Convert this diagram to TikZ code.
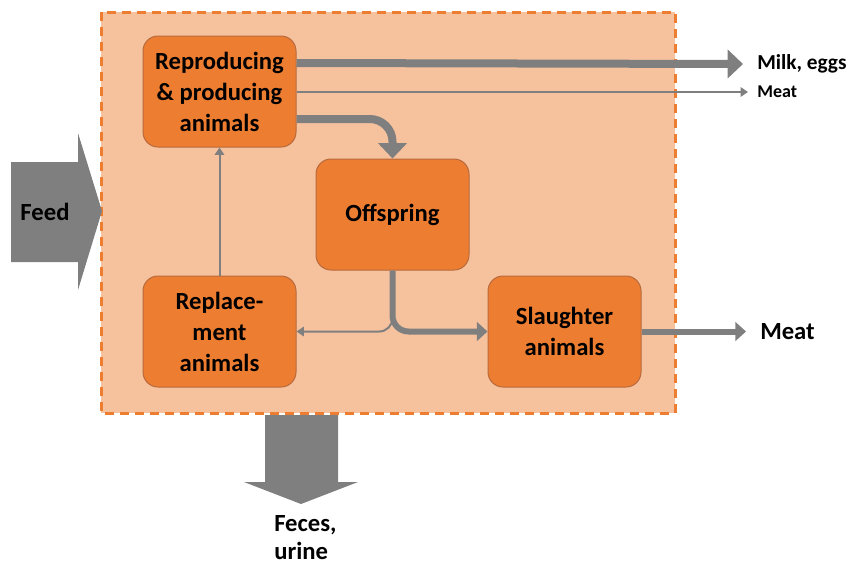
\documentclass[tikz,border=0pt]{standalone}
\usepackage{fontspec}
\setmainfont{Carlito}
\usetikzlibrary{arrows.meta,calc}
\definecolor{outerfill}{HTML}{F6C29E}
\definecolor{boxfill}{HTML}{ED7D31}
\definecolor{boxline}{HTML}{B86A3C}
\definecolor{dashcol}{HTML}{ED7D31}
\definecolor{arrgray}{HTML}{7F7F7F}
\tikzset{
  animalbox/.style={draw=boxline, line width=0.75pt, fill=boxfill, rounded corners=11.25pt,
    minimum width=114.75pt, minimum height=83.25pt, align=center, inner sep=2pt,
    font=\fontsize{18.5}{23.25}\selectfont\bfseries},
  lbl/.style={inner sep=0pt, font=\fontsize{18.5}{22.5}\selectfont\bfseries},
  thickarr/.style={draw=arrgray, line width=6pt, -{Triangle[length=11.5pt,width=21pt]}},
  medarr/.style={draw=arrgray, line width=4.5pt, -{Triangle[length=8pt,width=14pt]}},
  thinarr/.style={draw=arrgray, line width=1.5pt, -{Triangle[length=5.5pt,width=7pt]}},
  blockarr/.style={fill=arrgray}
}
\begin{document}
\begin{tikzpicture}[x=0.75pt,y=-0.75pt]
\useasboundingbox (0,0) rectangle (849,565);
% outer system box
\fill[outerfill] (101,12) rectangle (675,413);
\draw[dashcol, line width=2.25pt, dash pattern=on 6.75pt off 4.5pt] (101,12) rectangle (675,413);
% feed block arrow
\fill[blockarr] (11,162) -- (78,162) -- (78,133) -- (102,211) -- (78,290) -- (78,262) -- (11,262) -- cycle;
\node[lbl] (feed) at (45,212) {Feed};
% feces block arrow
\fill[blockarr] (265,415) -- (338,415) -- (338,482) -- (358,482) -- (301,504) -- (244,482) -- (265,482) -- cycle;
\node[lbl, align=left, anchor=base west, font=\fontsize{18.5}{20.5}\selectfont\bfseries] (feces) at (274,559) {Feces,\\urine};
% boxes
\node[animalbox] (rep) at (219.5,91.5) {Reproducing\\\& producing\\animals};
\node[animalbox] (off) at (392.5,214.5) {Offspring};
\node[animalbox] (repl) at (219.5,331.5) {Replace-\\ment\\animals};
\node[animalbox] (sla) at (564.5,331.5) {Slaughter\\animals};
% output labels
\node[lbl, anchor=west, font=\fontsize{16}{19}\selectfont\bfseries] (milk) at (757,64) {Milk, eggs};
\node[lbl, anchor=west, font=\fontsize{13.5}{16}\selectfont\bfseries] (meat1) at (757,92) {Meat};
\node[lbl, anchor=west] (meat2) at (760,331.5) {Meat};
% connectors
\draw[thickarr] ($(rep.east)+(0,-28.5)$) -- ($(milk.west)+(-14,0)$);
\draw[thinarr] ($(rep.east)+(0,0.5)$) -- ($(meat1.west)+(-9,0)$);
\draw[thickarr, rounded corners=17pt] ($(rep.east)+(0,27.5)$) -| (off.north);
\draw[thinarr] (repl.north) -- (rep.south);
\draw[thinarr, rounded corners=10pt] (off.south) |- (repl.east);
\draw[medarr, rounded corners=12pt] (off.south) |- (sla.west);
\draw[medarr] (sla.east) -- ($(meat2.west)+(-14,0)$);
\end{tikzpicture}
\end{document}
